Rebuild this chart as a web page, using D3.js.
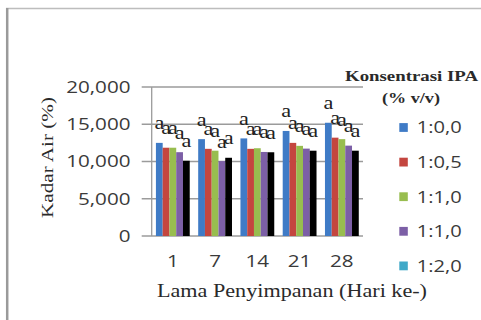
<!DOCTYPE html>
<html>
<head>
<meta charset="utf-8">
<script src="https://cdn.jsdelivr.net/npm/d3@7"></script>
<style>
  html, body { margin: 0; padding: 0; background: #fff; }
  svg { display: block; }
</style>
</head>
<body>
<svg id="chart" width="481" height="320"></svg>
<script>
// Storage day groups
const categories = ["1", "7", "14", "21", "28"];
// IPA concentration series
const seriesNames = ["1:0,0", "1:0,5", "1:1,0", "1:1,0", "1:2,0"];
// Moisture content per series, one value per storage day
const s00 = [12500, 13000, 13100, 14100, 15200];
const s05 = [11850, 11700, 11700, 12500, 13200];
const s10 = [11850, 11450, 11780, 12100, 13000];
const s10b = [11250, 10050, 11280, 11730, 12130];
const s20 = [10100, 10500, 11240, 11450, 11450];
// Significance letters shown over each bar
const letters00 = ["a", "a", "a", "a", "a"];
const letters05 = ["a", "a", "a", "a", "a"];
const letters10 = ["a", "a", "a", "a", "a"];
const letters10b = ["a", "a", "a", "a", "a"];
const letters20 = ["a", "a", "a", "a", "a"];
const yTicks = [0, 5000, 10000, 15000, 20000];

const seriesValues = [s00, s05, s10, s10b, s20];
const seriesLetters = [letters00, letters05, letters10, letters10b, letters20];
const barColors = ["#3f7bc6", "#c4463f", "#98bd4f", "#7c5fa6", "#000000"];
const legendColors = ["#3f7bc6", "#c4463f", "#98bd4f", "#7c5fa6", "#40a9c8"];

const svg = d3.select("#chart");
const SERIF = "'Liberation Serif', 'Times New Roman', serif";
const SANS = "'Open Sans', 'Liberation Sans', sans-serif";
const STRETCH = 1.28;

// widen text horizontally by a fixed factor
function stretch(sel, k) {
  sel.each(function () {
    const w = this.getComputedTextLength();
    d3.select(this).attr("textLength", w * k).attr("lengthAdjust", "spacingAndGlyphs");
  });
}
function fitTo(sel, len) {
  sel.attr("textLength", len).attr("lengthAdjust", "spacingAndGlyphs");
}

// page frame
svg.append("rect").attr("width", 481).attr("height", 320).attr("fill", "#fff");
svg.append("line").attr("x1", 6).attr("x2", 481).attr("y1", 8.5).attr("y2", 8.5)
  .attr("stroke", "#bdbdbd").attr("stroke-width", 1.5);
svg.append("line").attr("x1", 7.2).attr("x2", 7.2).attr("y1", 8).attr("y2", 320)
  .attr("stroke", "#9a9a9a").attr("stroke-width", 2.5);

const plot = { left: 151.7, right: 363, top: 87, bottom: 236 };

const y = d3.scaleLinear().domain([0, 20000]).range([plot.bottom, plot.top]);
const x0 = d3.scaleBand().domain(categories).range([plot.left, plot.right])
  .paddingInner(0.2).paddingOuter(0.1);
const x1 = d3.scaleBand().domain(d3.range(seriesNames.length)).range([0, x0.bandwidth()]);

// gridlines with outside tick marks
svg.append("g").selectAll("line").data(yTicks).join("line")
  .attr("x1", plot.left - 10).attr("x2", plot.right)
  .attr("y1", d => y(d)).attr("y2", d => y(d))
  .attr("stroke", "#9b9b9b").attr("stroke-width", 1.3);

// vertical axis line
svg.append("line").attr("x1", plot.left).attr("x2", plot.left)
  .attr("y1", y(20000)).attr("y2", y(0)).attr("stroke", "#9b9b9b").attr("stroke-width", 1.3);

// y tick labels
const fmt = d3.format(",");
svg.append("g").selectAll("text").data(yTicks).join("text")
  .attr("x", 130.5).attr("y", d => y(d)).attr("dy", "0.36em")
  .attr("text-anchor", "end")
  .attr("font-family", SANS).attr("font-size", 16.5).attr("fill", "#3a3a3a")
  .text(d => fmt(d))
  .call(stretch, 1.25);

// bars
const groups = svg.append("g").selectAll("g").data(categories).join("g")
  .attr("transform", c => `translate(${x0(c)},0)`);

groups.selectAll("rect")
  .data((c, ci) => seriesValues.map((vals, si) => ({ si, v: vals[ci] })))
  .join("rect")
  .attr("x", d => x1(d.si))
  .attr("width", x1.bandwidth())
  .attr("y", d => y(d.v))
  .attr("height", d => y(0) - y(d.v))
  .attr("fill", d => barColors[d.si]);

// letters above bars
groups.selectAll("text")
  .data((c, ci) => seriesValues.map((vals, si) => ({ si, v: vals[ci], t: seriesLetters[si][ci] })))
  .join("text")
  .attr("x", d => x1(d.si) + x1.bandwidth() / 2)
  .attr("y", d => y(d.v) - 13.5)
  .attr("text-anchor", "middle")
  .attr("font-family", SERIF).attr("font-size", 18.5).attr("fill", "#222")
  .text(d => d.t)
  .call(stretch, 1.2);

// category labels
svg.append("g").selectAll("text").data(categories).join("text")
  .attr("x", c => x0(c) + x0.bandwidth() / 2).attr("y", 266.5)
  .attr("text-anchor", "middle")
  .attr("font-family", SANS).attr("font-size", 16.5).attr("fill", "#3a3a3a")
  .text(c => c)
  .call(stretch, 1.25);

// axis titles
svg.append("text").attr("x", 292).attr("y", 296.5).attr("text-anchor", "middle")
  .attr("font-family", SERIF).attr("font-size", 18).attr("fill", "#2a2a2a")
  .text("Lama Penyimpanan (Hari ke-)")
  .call(fitTo, 270);

svg.append("text").attr("transform", "translate(52.7,157.5) rotate(-90)")
  .attr("text-anchor", "middle")
  .attr("font-family", SERIF).attr("font-size", 17).attr("fill", "#2a2a2a")
  .text("Kadar Air (%)")
  .call(fitTo, 121);

// legend
svg.append("text").attr("x", 411.5).attr("y", 80.7).attr("text-anchor", "middle")
  .attr("font-family", SERIF).attr("font-weight", "bold").attr("font-size", 14).attr("fill", "#2a2a2a")
  .text("Konsentrasi IPA")
  .call(fitTo, 133);
svg.append("text").attr("x", 411).attr("y", 103).attr("text-anchor", "middle")
  .attr("font-family", SERIF).attr("font-weight", "bold").attr("font-size", 14).attr("fill", "#2a2a2a")
  .text("(% v/v)")
  .call(fitTo, 58);

const legend = svg.append("g").selectAll("g").data(seriesNames).join("g")
  .attr("transform", (d, i) => `translate(399.3,${127.5 + i * 34.6})`);
legend.append("rect").attr("x", 0).attr("y", -4.4).attr("width", 8.5).attr("height", 8.8)
  .attr("fill", (d, i) => legendColors[i]);
legend.append("text").attr("x", 17.4).attr("y", 0).attr("dy", "0.36em")
  .attr("font-family", SANS).attr("font-size", 16.5).attr("fill", "#3a3a3a")
  .text(d => d)
  .call(fitTo, 45);
</script>
</body>
</html>
